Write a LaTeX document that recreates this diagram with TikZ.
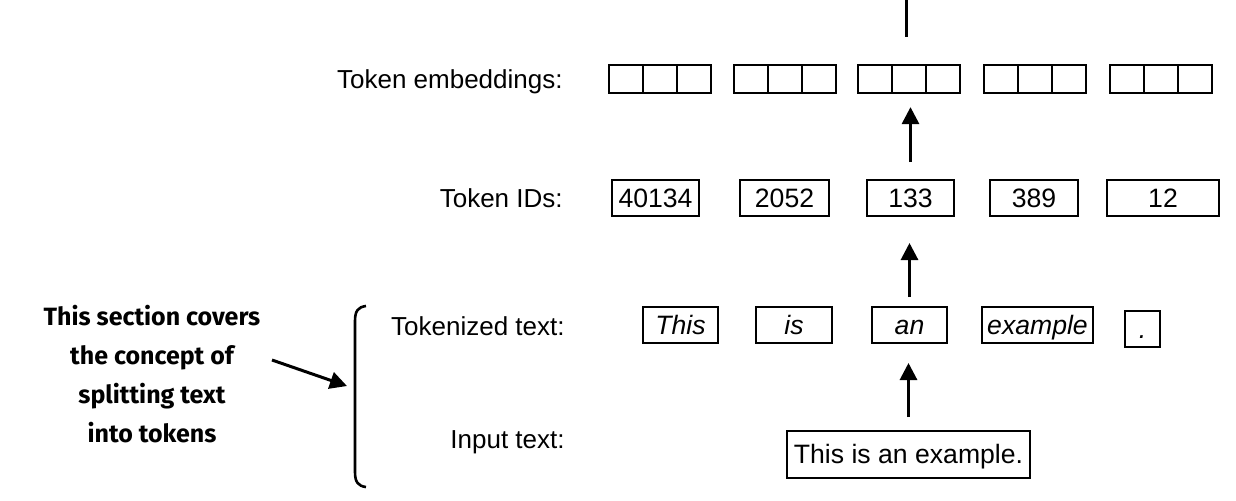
\documentclass[tikz,border=0pt]{standalone}
\usepackage{fontspec}
\setmainfont{Liberation Sans}
\newfontfamily\notefont{Fira Sans}
\usetikzlibrary{arrows.meta}
\tikzset{
  lbl/.style={anchor=base east, inner sep=0pt, font=\fontsize{13}{15}\selectfont},
  sq/.style={draw, line width=1.1pt, minimum width=17pt, minimum height=14pt, inner sep=0pt},
  boxtxt/.style={draw, line width=1pt, inner sep=0pt, text height=9.5pt, text depth=0pt},
  idbox/.style={boxtxt, minimum height=18pt, font=\fontsize{13.3}{15}\selectfont},
  tokbox/.style={boxtxt, minimum height=18pt, font=\fontsize{13.3}{15}\selectfont\itshape},
  inbox/.style={boxtxt, text depth=1pt, minimum height=23.5pt, font=\fontsize{13.3}{15}\selectfont},
  arr/.style={line width=1.5pt, -{Triangle[length=8.5pt,width=8.5pt]}},
  plainline/.style={line width=1.5pt},
  note/.style={inner sep=0pt, align=center, font=\notefont\bfseries\fontsize{12.5}{19.5}\selectfont}
}
\begin{document}
\begin{tikzpicture}[x=0.5pt, y=-0.5pt]
\useasboundingbox (0,0) rectangle (1236,500);

% row labels
\node[lbl] (lemb) at (563,88) {Token embeddings:};
\node[lbl] (lid) at (563,207) {Token IDs:};
\node[lbl] (ltok) at (565,335) {Tokenized text:};
\node[lbl] (linp) at (565,448) {Input text:};

% token embeddings
\foreach \g/\l in {1/609,2/734,3/858,4/984,5/1110}{
  \node[sq] (e\g a) at (\l+17,79) {};
  \node[sq] (e\g b) at (\l+51,79) {};
  \node[sq] (e\g c) at (\l+85,79) {};
}

% token IDs
\node[idbox, minimum width=43.5pt] (id1) at (655.5,198) {40134};
\node[idbox, minimum width=44.5pt] (id2) at (784.5,198) {2052};
\node[idbox, minimum width=43.5pt] (id3) at (910.5,198) {133};
\node[idbox, minimum width=44pt] (id4) at (1034,198) {389};
\node[idbox, minimum width=56pt] (id5) at (1163,198) {12};

% tokenized text
\node[tokbox, minimum width=37.5pt] (tok1) at (680.5,325) {This};
\node[tokbox, minimum width=38pt] (tok2) at (794,325) {is};
\node[tokbox, minimum width=37.5pt] (tok3) at (909.5,325) {an};
\node[tokbox, minimum width=55.5pt] (tok4) at (1037.5,325) {example};
\node[tokbox, minimum width=17.5pt] (tok5) at (1142.5,329) {.};

% input text
\node[inbox, minimum width=121.5pt] (inp) at (908.5,454.5) {This is an example.};

% vertical arrows
\draw[arr, shorten <=6.5pt, shorten >=9.5pt] (inp.north) -- (inp.north |- tok3.south);
\draw[arr, shorten <=4.5pt, shorten >=13pt] (tok3.north) -- (tok3.north |- id3.south);
\draw[arr, shorten <=8.5pt, shorten >=6.5pt] (id3.north) -- (id3.north |- e3b.south);
\coordinate (topend) at (906,0);
\draw[plainline, shorten <=13.5pt] (e3b.north -| topend) -- (topend);

% side note
\node[note, anchor=north] (note) at (152,305) {This section covers\\the concept of\\splitting text\\into tokens};
\coordinate (notefrom) at (272,360);
\coordinate (noteto) at (347,386);
\draw[arr] (notefrom) -- (noteto);

% bracket
\draw[line width=1.3pt] (366,306) .. controls (358,307) and (355,311) .. (355,321)
  -- (355,472) .. controls (355,482) and (358,486) .. (366,487);
\end{tikzpicture}
\end{document}
